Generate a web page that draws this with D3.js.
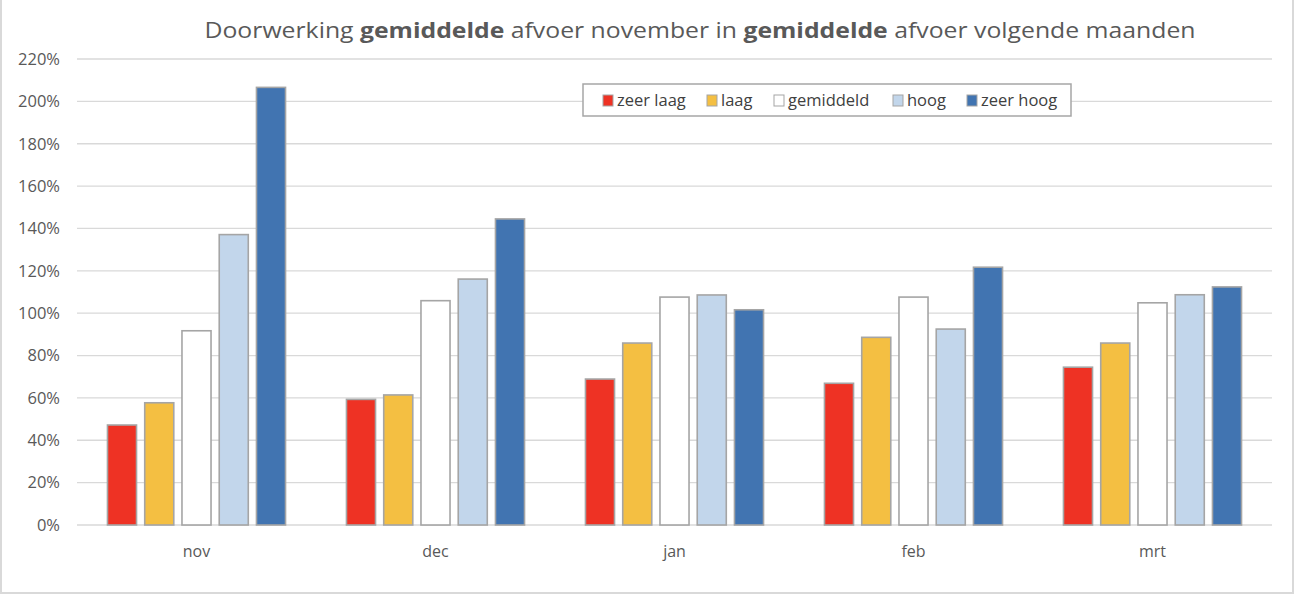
<!DOCTYPE html>
<html>
<head>
<meta charset="utf-8">
<script src="https://cdn.jsdelivr.net/npm/d3@7"></script>
<style>
  body { margin: 0; background: #fff; }
  svg { display: block; font-family: "Open Sans", "Noto Sans", sans-serif; }
</style>
</head>
<body>
<div id="chart"></div>
<script>
// Data
const months = ["nov", "dec", "jan", "feb", "mrt"];
const series = ["zeer laag", "laag", "gemiddeld", "hoog", "zeer hoog"];
const zeerLaag = [0.472, 0.593, 0.689, 0.669, 0.745];
const laag = [0.577, 0.614, 0.859, 0.886, 0.859];
const gemiddeld = [0.917, 1.059, 1.076, 1.076, 1.049];
const hoog = [1.371, 1.161, 1.086, 0.925, 1.087];
const zeerHoog = [2.066, 1.445, 1.016, 1.217, 1.124];
const yTicks = [0, 0.2, 0.4, 0.6, 0.8, 1.0, 1.2, 1.4, 1.6, 1.8, 2.0, 2.2];
const colors = ["#ee3224", "#f4bf42", "#ffffff", "#c2d6eb", "#4174b1"];

const values = [zeerLaag, laag, gemiddeld, hoog, zeerHoog];
const rows = months.map((m, i) => ({
    month: m,
    vals: series.map((s, j) => ({ key: s, value: values[j][i], color: colors[j] }))
}));

const W = 1298, H = 598;
const margin = { top: 59, right: 26, bottom: 73, left: 77 };

const svg = d3.select("#chart").append("svg")
    .attr("width", W)
    .attr("height", H);

// Chart object frame (left, right and bottom edges visible)
svg.append("rect")
    .attr("x", 1).attr("y", -4)
    .attr("width", 1292).attr("height", 597)
    .attr("fill", "none")
    .attr("stroke", "#d9d9d9")
    .attr("stroke-width", 2);

const x0 = d3.scaleBand()
    .domain(months)
    .range([margin.left, W - margin.right])
    .paddingInner(0.255)
    .paddingOuter(0.1275);

const x1 = d3.scaleBand()
    .domain(series)
    .range([0, x0.bandwidth()])
    .paddingInner(0.22);

const y = d3.scaleLinear()
    .domain([0, 2.2])
    .range([H - margin.bottom, margin.top]);

// Gridlines
svg.append("g")
    .selectAll("line")
    .data(yTicks)
    .join("line")
    .attr("x1", margin.left)
    .attr("x2", W - margin.right)
    .attr("y1", d => y(d))
    .attr("y2", d => y(d))
    .attr("stroke", "#d9d9d9")
    .attr("stroke-width", 1.3);

// Y axis labels
const yAxis = svg.append("g")
    .attr("transform", `translate(${margin.left},0)`)
    .call(d3.axisLeft(y).tickValues(yTicks).tickFormat(d3.format(".0%")).tickSize(0).tickPadding(17));
yAxis.select(".domain").remove();
yAxis.selectAll("text")
    .attr("fill", "#595959")
    .style("font-size", "16.5px")
    .style("font-family", "'Open Sans', sans-serif");

// X axis labels
const xAxis = svg.append("g")
    .attr("transform", `translate(0,${H - margin.bottom})`)
    .call(d3.axisBottom(x0).tickSize(0).tickPadding(21));
xAxis.select(".domain").remove();
xAxis.selectAll("text")
    .attr("fill", "#595959")
    .style("font-size", "16px")
    .style("font-family", "'Open Sans', sans-serif");

// Bars
svg.append("g")
    .selectAll("g")
    .data(rows)
    .join("g")
    .attr("transform", d => `translate(${x0(d.month)},0)`)
    .selectAll("rect")
    .data(d => d.vals)
    .join("rect")
    .attr("x", d => x1(d.key))
    .attr("y", d => y(d.value))
    .attr("width", x1.bandwidth())
    .attr("height", d => y(0) - y(d.value))
    .attr("fill", d => d.color)
    .attr("stroke", "#a5a5a5")
    .attr("stroke-width", 1.6);

// Title
const title = svg.append("text")
    .attr("x", 700)
    .attr("y", 38)
    .attr("text-anchor", "middle")
    .attr("fill", "#595959")
    .style("font-size", "22px");
const parts = [
    ["Doorwerking ", false], ["gemiddelde", true], [" afvoer november in ", false],
    ["gemiddelde", true], [" afvoer volgende maanden", false]
];
parts.forEach(([t, b]) => {
    title.append("tspan")
        .attr("font-weight", b ? "bold" : "normal")
        .text(t);
});
// squeeze title to the reference width
title.attr("textLength", 991).attr("lengthAdjust", "spacingAndGlyphs");

// Legend
const legend = svg.append("g");
legend.append("rect")
    .attr("x", 583).attr("y", 84)
    .attr("width", 488).attr("height", 32)
    .attr("fill", "#fff")
    .attr("stroke", "#a6a6a6")
    .attr("stroke-width", 1.5);

const legendX = [603, 707, 774, 893, 967];
const items = legend.selectAll("g.item")
    .data(series)
    .join("g")
    .attr("class", "item")
    .attr("transform", (d, i) => `translate(${legendX[i]},100)`);
items.append("rect")
    .attr("x", 0).attr("y", -5)
    .attr("width", 10).attr("height", 11)
    .attr("fill", (d, i) => colors[i])
    .attr("stroke", "#a5a5a5")
    .attr("stroke-width", 1);
items.append("text")
    .attr("x", 14)
    .attr("y", 6)
    .attr("fill", "#404040")
    .style("font-size", "16.5px")
    .text(d => d);
</script>
</body>
</html>
